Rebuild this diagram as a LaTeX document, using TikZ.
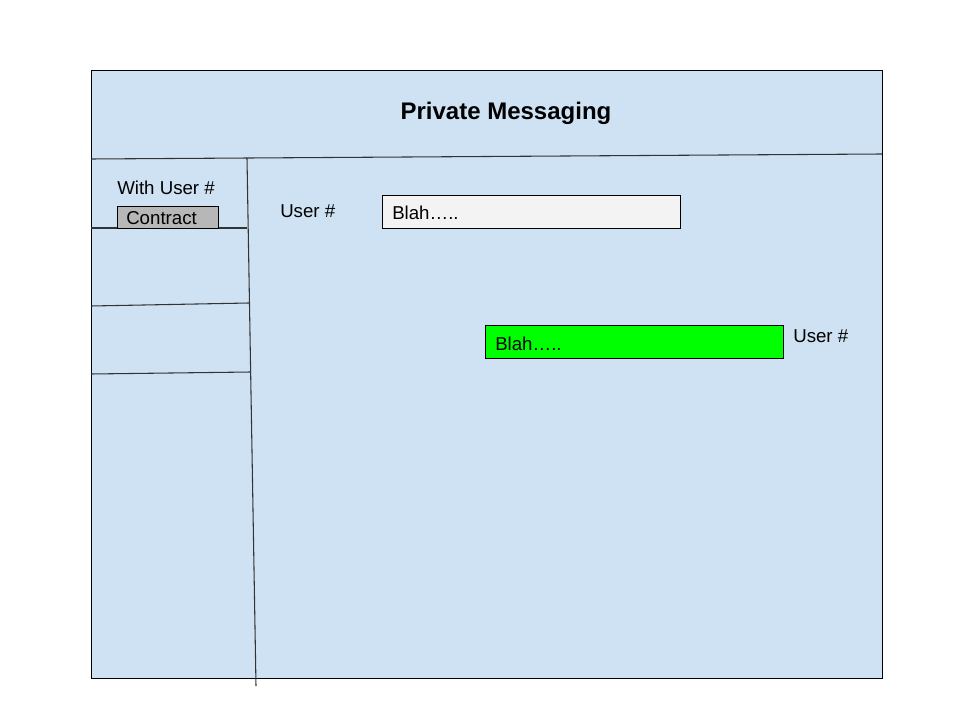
\documentclass[tikz,border=0pt]{standalone}
\usepackage{fontspec}
\setmainfont{Liberation Sans}
\definecolor{panel}{HTML}{CFE2F3}
\definecolor{msgin}{HTML}{F3F3F3}
\definecolor{msgout}{HTML}{00FF00}
\definecolor{btn}{HTML}{B7B7B7}
\begin{document}
\begin{tikzpicture}[x=0.75pt,y=-0.75pt,
  frame/.style={draw=black,line width=0.8pt},
  sep/.style={draw=black!80,line width=0.8pt},
  lbl/.style={font=\fontsize{14}{16}\selectfont,inner sep=0pt},
  msgbox/.style={draw=black,line width=0.8pt,minimum width=298*0.75pt,minimum height=33*0.75pt,inner sep=0pt,anchor=north west,font=\fontsize{14}{16}\selectfont}]
\useasboundingbox (0,0) rectangle (960,720);
\fill[white] (0,0) rectangle (960,720);
\node[frame,fill=panel,anchor=north west,minimum width=791*0.75pt,minimum height=608*0.75pt,inner sep=0pt] (win) at (91,70) {};
\node[font=\bfseries\fontsize{18}{20}\selectfont] (title) at (506,113) {Private Messaging};
\coordinate (h1) at (91,159);
\coordinate (h2) at (882,154);
\draw[sep] (h1) -- (h2);
\coordinate (v1) at (247,158);
\coordinate (v2) at (256,686);
\draw[sep] (v1) -- (v2);
\coordinate (a1) at (91,228);
\coordinate (a2) at (247,228);
\draw[sep] (a1) -- (a2);
\coordinate (b1) at (91,306);
\coordinate (b2) at (249,303);
\draw[sep] (b1) -- (b2);
\coordinate (c1) at (91,374);
\coordinate (c2) at (251,372);
\draw[sep] (c1) -- (c2);
\node[lbl,anchor=west] (with) at (117,188) {With User \#};
\node[draw=black,line width=0.8pt,fill=btn,anchor=north west,minimum width=101*0.75pt,minimum height=22*0.75pt,inner sep=0pt] (btnbox) at (117,206) {};
\node[lbl,anchor=west] (contract) at (126,218) {Contract};
\node[lbl,anchor=west] (u1) at (280,211) {User \#};
\node[msgbox,fill=msgin] (m1) at (382,195) {};
\node[lbl,anchor=west] (t1) at (392,213) {Blah\ldots..};
\node[msgbox,fill=msgout] (m2) at (485,325) {};
\node[lbl,anchor=west] (t2) at (495,344) {Blah\ldots..};
\node[lbl,anchor=west] (u2) at (793,336) {User \#};
\end{tikzpicture}
\end{document}
